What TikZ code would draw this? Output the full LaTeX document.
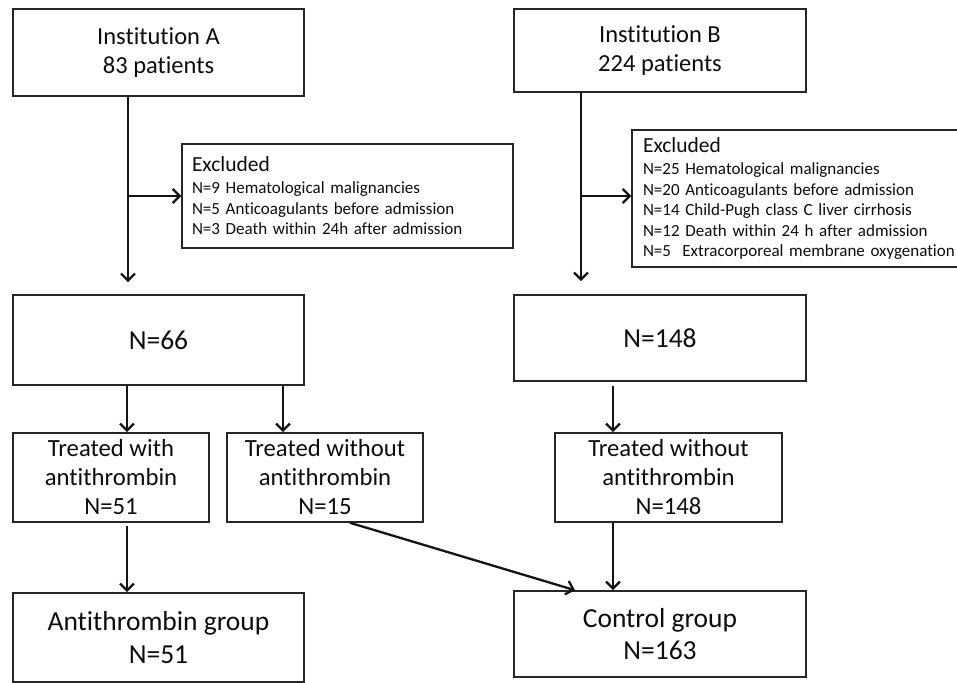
\documentclass[tikz,border=0pt]{standalone}
\usepackage{fontspec}
\setmainfont[Ligatures=NoCommon]{Carlito}
\usetikzlibrary{arrows.meta}
\begin{document}
\begin{tikzpicture}[x=1pt,y=-1pt,
  box/.style={draw=black!85, line width=1.6pt, inner sep=0pt, align=center, text=black!95},
  exbox/.style={draw=black!85, line width=1.4pt, inner xsep=10pt, inner ysep=0pt, align=left, text=black!95, font=\fontsize{17}{20.5}\selectfont},
  topfont/.style={font=\fontsize{24.5}{28.7}\selectfont},
  midfont/.style={font=\fontsize{24.7}{29}\selectfont},
  bigfont/.style={font=\fontsize{27.5}{32.7}\selectfont},
  arr/.style={line width=2.3pt, draw=black!92, -{Straight Barb[length=7pt,width=14pt,line width=2.3pt]}},
]
\useasboundingbox (0,0) rectangle (957,682);
\fill[white] (0,0) rectangle (957,682);

% boxes
\node[box, topfont, minimum width=291pt, minimum height=87pt] (instA) at (158.5,52.5) {Institution A\\83 patients};
\node[box, topfont, minimum width=292pt, minimum height=83pt] (instB) at (660,50.5) {Institution B\\224 patients};

\node[exbox, text width=311pt, minimum height=104pt] (exA) at (347.5,196)
 {{\fontsize{21.5}{22}\selectfont Excluded}\\[1.5pt]N=9 Hematological malignancies\\N=5 Anticoagulants before admission\\N=3 Death within 24h after admission};
\node[exbox, inner xsep=11pt, text width=330pt, minimum height=137pt] (exB) at (808,198.5)
 {{\fontsize{21.5}{22}\selectfont Excluded}\\[1.5pt]N=25 Hematological malignancies\\N=20 Anticoagulants before admission\\N=14 Child-Pugh class C liver cirrhosis\\N=12 Death within 24 h after admission\\N=5~ Extracorporeal membrane oxygenation};

\node[box, bigfont, minimum width=291pt, minimum height=90pt] (n66) at (158.5,340) {N=66};
\node[box, bigfont, minimum width=292pt, minimum height=86pt] (n148) at (660,338) {N=148};

\node[box, midfont, minimum width=196pt, minimum height=89pt] (twA) at (111,477.5) {Treated with\\antithrombin\\N=51};
\node[box, midfont, minimum width=196pt, minimum height=89pt] (twoA) at (325,477.5) {Treated without\\antithrombin\\N=15};
\node[box, midfont, minimum width=227pt, minimum height=89pt] (twoB) at (668.5,477.5) {Treated without\\antithrombin\\N=148};

\node[box, bigfont, minimum width=291pt, minimum height=89pt] (agrp) at (158.5,637.5) {Antithrombin group\\N=51};
\node[box, bigfont, minimum width=292pt, minimum height=86pt] (cgrp) at (660,634) {Control group\\N=163};

% helper coordinates
\coordinate (xa) at (128,0);
\coordinate (xb) at (581,0);
\coordinate (x1) at (127,0);
\coordinate (x2) at (283,0);
\coordinate (x3) at (613,0);
\coordinate (xd1) at (350,0);
\coordinate (xd2) at (575,0);
\coordinate (brA) at (128,196);
\coordinate (brB) at (581,196);

% connectors
\draw[arr, shorten >=12pt] (instA.south -| xa) -- (n66.north -| xa);
\draw[arr] (brA) -- (brA -| exA.west);
\draw[arr, shorten >=13pt] (instB.south -| xb) -- (n148.north -| xb);
\draw[arr] (brB) -- (brB -| exB.west);

\draw[arr] (n66.south -| x1) -- (twA.north -| x1);
\draw[arr] (n66.south -| x2) -- (twoA.north -| x2);
\draw[arr, shorten <=4pt] (n148.south -| x3) -- (twoB.north -| x3);

\draw[arr, shorten <=3pt] (twA.south -| x1) -- (agrp.north -| x1);
\draw[arr] (twoB.south -| x3) -- (cgrp.north -| x3);
\draw[arr] (twoA.south -| xd1) -- (cgrp.north -| xd2);
\end{tikzpicture}
\end{document}
